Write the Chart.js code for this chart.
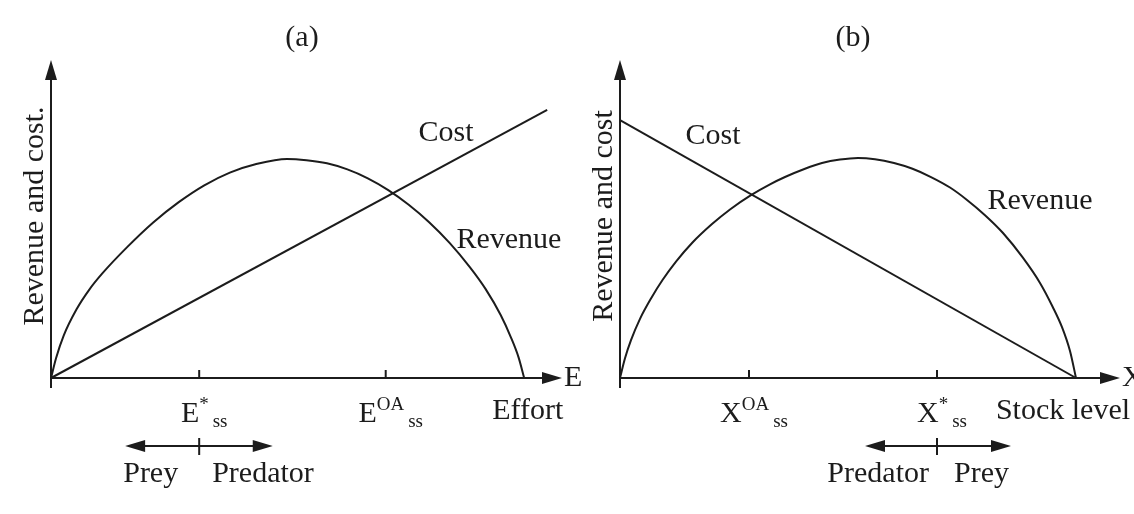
<!DOCTYPE html>
<html>
<head>
<meta charset="utf-8">
<title>Revenue and cost - effort and stock level</title>
<script src="https://cdn.jsdelivr.net/npm/chart.js@4.4.1/dist/chart.umd.min.js"></script>
<style>
  body { margin: 0; background: #fff; }
  #wrap { position: relative; width: 1134px; height: 514px; overflow: hidden; }
  #wrap canvas { position: absolute; top: 0; }
</style>
</head>
<body>
<div id="wrap">
  <canvas id="chartA" width="600" height="514" style="left:0"></canvas>
  <canvas id="chartB" width="567" height="514" style="left:567px"></canvas>
</div>
<script>

// ---- panel (a): against effort ----
var effortA   = [0, 1, 2.5, 5, 7.5, 10, 15, 20, 25, 30, 35, 40, 46.2, 50, 54, 58, 62, 66, 70, 74, 78, 82, 85, 88, 90, 91.5, 92.6];
var revenueA  = [0, 6.3, 13.4, 21.6, 27.8, 32.8, 41.3, 48.9, 55.3, 60.6, 64.6, 67.2, 68.9, 68.5, 67.5, 65.6, 62.8, 59.1, 54.5, 49, 42.5, 34.8, 28.1, 19.8, 12.8, 6.5, 0];
var costXA    = [0, 97.1];
var costA     = [0, 84.3];
var tickXA    = [29, 65.5];            // E*ss, E^OA ss
var tickBaseA = ['E', 'E'];
var tickSupA  = ['*', 'OA'];
var tickSubA  = ['ss', 'ss'];
var arrowA    = [14.5, 29, 43.4];      // left end, centre tick, right end

// ---- panel (b): against stock level ----
var stockB    = [0, 1, 2.2, 4, 6.2, 8.5, 11.2, 14.5, 18.4, 22, 26.2, 30, 33, 37, 40.4, 44, 47.6, 51, 54.8, 58.5, 62.2, 66, 69.4, 73, 76.6, 80.5, 84, 86.5, 88.4, 90, 91.2];
var revenueB  = [0, 6.2, 11.9, 18.6, 25, 30.8, 36.6, 42.6, 48.4, 53, 57.5, 60.9, 63.2, 65.8, 67.6, 68.7, 69.2, 68.8, 67.6, 65.8, 63.2, 59.9, 56, 51.2, 45.6, 38, 29.9, 22.5, 16, 8.5, 0];
var costXB    = [0, 91.2];
var costB     = [81.1, 0];
var tickXB    = [25.8, 63.4];          // X^OA ss, X*ss
var tickBaseB = ['X', 'X'];
var tickSupB  = ['OA', '*'];
var tickSubB  = ['ss', 'ss'];
var arrowB    = [49, 63.4, 78.2];

var SERIF = '"Liberation Serif", "Times New Roman", serif';
var INK = '#1c1c1c';

function pts(xs, ys) {
  return xs.map(function (x, i) { return { x: x, y: ys[i] }; });
}

function head(ctx, x, y, dx, dy) {
  // filled triangle pointing along (dx,dy)
  var len = 20, half = 6;
  var px = -dy, py = dx;
  ctx.beginPath();
  ctx.moveTo(x, y);
  ctx.lineTo(x - dx * len + px * half, y - dy * len + py * half);
  ctx.lineTo(x - dx * len - px * half, y - dy * len - py * half);
  ctx.closePath();
  ctx.fill();
}

function symbol(ctx, cx, axisY, base, sup, sub) {
  ctx.font = '30px ' + SERIF;
  var wb = ctx.measureText(base).width;
  ctx.font = '19px ' + SERIF;
  var wsup = ctx.measureText(sup).width;
  var wsub = ctx.measureText(sub).width;
  var x0 = cx - (wb + wsup + 4 + wsub) / 2;
  ctx.textAlign = 'left';
  ctx.textBaseline = 'alphabetic';
  ctx.font = '30px ' + SERIF;
  ctx.fillText(base, x0, axisY + 44);
  ctx.font = '19px ' + SERIF;
  ctx.fillText(sup, x0 + wb, axisY + 32);
  ctx.fillText(sub, x0 + wb + wsup + 4, axisY + 49);
}

var diagram = {
  id: 'diagram',
  beforeDatasetsDraw: function (chart) {
    var o = chart.options.plugins.diagram;
    var ctx = chart.ctx, xs = chart.scales.x, ys = chart.scales.y;
    var x0 = xs.getPixelForValue(0), x1 = xs.getPixelForValue(100);
    var y0 = ys.getPixelForValue(0), y1 = ys.getPixelForValue(100);
    ctx.save();
    ctx.strokeStyle = INK; ctx.fillStyle = INK; ctx.lineWidth = 2;
    // axes
    ctx.beginPath();
    ctx.moveTo(x0, y0 + 10); ctx.lineTo(x0, y1 + 10);
    ctx.moveTo(x0, y0); ctx.lineTo(x1 - 10, y0);
    ctx.stroke();
    head(ctx, x0, y1, 0, -1);
    head(ctx, x1, y0, 1, 0);
    // ticks on the axis
    o.ticks.forEach(function (v) {
      var p = xs.getPixelForValue(v);
      ctx.beginPath(); ctx.moveTo(p, y0 - 8); ctx.lineTo(p, y0); ctx.stroke();
    });
    ctx.restore();
  },
  afterDatasetsDraw: function (chart) {
    var o = chart.options.plugins.diagram;
    var ctx = chart.ctx, xs = chart.scales.x, ys = chart.scales.y;
    var y0 = ys.getPixelForValue(0);
    var a = chart.chartArea;
    ctx.save();
    ctx.fillStyle = INK; ctx.strokeStyle = INK;

    // panel title
    ctx.font = '30px ' + SERIF;
    ctx.textAlign = 'center'; ctx.textBaseline = 'middle';
    ctx.fillText(o.title, o.titleX, 38);

    // rotated axis title
    ctx.save();
    ctx.translate(a.left - 16, 216);
    ctx.rotate(-Math.PI / 2);
    ctx.fillText(o.yTitle, 0, 0);
    ctx.restore();

    // axis letter at arrow tip
    ctx.textAlign = 'left';
    ctx.fillText(o.axisLetter, xs.getPixelForValue(100) + 2, y0);

    // curve labels
    o.curveLabels.forEach(function (c) {
      ctx.textAlign = 'center';
      ctx.fillText(c.text, xs.getPixelForValue(c.x), ys.getPixelForValue(c.y));
    });

    // axis name under the end of the axis
    ctx.textAlign = 'center'; ctx.textBaseline = 'alphabetic';
    ctx.fillText(o.axisName, xs.getPixelForValue(o.axisNameX), y0 + 41);

    // tick symbols
    o.ticks.forEach(function (v, i) {
      symbol(ctx, xs.getPixelForValue(v) + 5, y0, o.base[i], o.sup[i], o.sub[i]);
    });

    // direction arrow row
    var ay = y0 + 68;
    var l = xs.getPixelForValue(o.arrow[0]), m = xs.getPixelForValue(o.arrow[1]), r = xs.getPixelForValue(o.arrow[2]);
    ctx.lineWidth = 2;
    ctx.beginPath();
    ctx.moveTo(l + 10, ay); ctx.lineTo(r - 10, ay);
    ctx.moveTo(m, ay - 8); ctx.lineTo(m, ay + 9);
    ctx.stroke();
    head(ctx, l, ay, -1, 0);
    head(ctx, r, ay, 1, 0);
    ctx.font = '30px ' + SERIF;
    ctx.textBaseline = 'middle';
    ctx.textAlign = 'right';
    ctx.fillText(o.leftWord, m - o.leftGap, ay + 28);
    ctx.textAlign = 'left';
    ctx.fillText(o.rightWord, m + o.rightGap, ay + 28);
    ctx.restore();
  }
};

function makePanel(id, pad, ds, opts) {
  return new Chart(document.getElementById(id), {
    type: 'scatter',
    data: { datasets: ds },
    plugins: [diagram],
    options: {
      responsive: false,
      animation: false,
      layout: { padding: pad },
      scales: {
        x: { type: 'linear', min: 0, max: 100, display: false },
        y: { type: 'linear', min: 0, max: 100, display: false }
      },
      plugins: { legend: { display: false }, tooltip: { enabled: false }, diagram: opts }
    }
  });
}

function lineSet(data, smooth) {
  return {
    data: data, showLine: true, borderColor: INK, borderWidth: 2,
    pointRadius: 0, clip: false, fill: false,
    cubicInterpolationMode: smooth ? 'monotone' : 'default'
  };
}

makePanel('chartA', { left: 51, right: 38, top: 60, bottom: 136 },
  [lineSet(pts(effortA, revenueA), true), lineSet(pts(costXA, costA), false)],
  {
    title: '(a)', titleX: 302, yTitle: 'Revenue and cost.', axisLetter: 'E',
    axisName: 'Effort', axisNameX: 93.3,
    curveLabels: [{ text: 'Cost', x: 77.3, y: 77 }, { text: 'Revenue', x: 89.6, y: 43.4 }],
    ticks: tickXA, base: tickBaseA, sup: tickSupA, sub: tickSubA,
    arrow: arrowA, leftWord: 'Prey', rightWord: 'Predator', leftGap: 21, rightGap: 13
  });

makePanel('chartB', { left: 53, right: 14, top: 60, bottom: 136 },
  [lineSet(pts(stockB, revenueB), true), lineSet(pts(costXB, costB), false)],
  {
    title: '(b)', titleX: 286, yTitle: 'Revenue and cost', axisLetter: 'X',
    axisName: 'Stock level', axisNameX: 88.6,
    curveLabels: [{ text: 'Cost', x: 18.6, y: 76.1 }, { text: 'Revenue', x: 84, y: 55.7 }],
    ticks: tickXB, base: tickBaseB, sup: tickSupB, sub: tickSubB,
    arrow: arrowB, leftWord: 'Predator', rightWord: 'Prey', leftGap: 8, rightGap: 17
  });

</script>
</body>
</html>
